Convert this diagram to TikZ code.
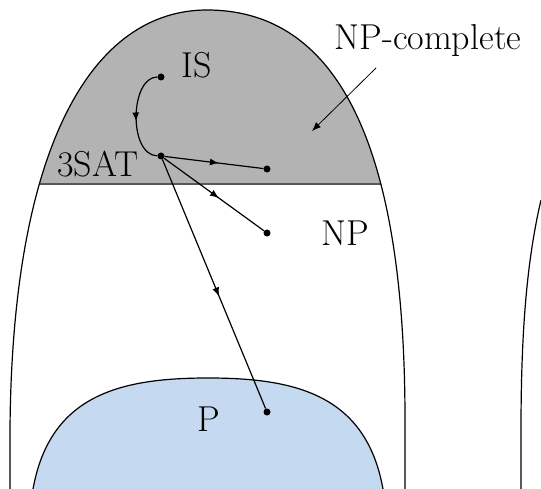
\documentclass[tikz,border=0pt]{standalone}
\usetikzlibrary{decorations.markings,arrows.meta}
\definecolor{npcgray}{RGB}{179,179,179}
\definecolor{pblue}{RGB}{197,217,241}
\tikzset{
  region/.style={draw=black, line width=1.2pt},
  redline/.style={line width=1.2pt, postaction={decorate},
    decoration={markings, mark=at position 0.55 with {\arrow{Latex[length=9pt,width=7pt]}}}},
  dotnode/.style={circle, fill=black, inner sep=0pt, minimum size=7pt},
  lbl/.style={font=\fontsize{36}{42}\selectfont, inner sep=0pt},
}
\begin{document}
\begin{tikzpicture}[x=1pt,y=-1pt]
\useasboundingbox (0,0) rectangle (541,489);
\def\dome{(10,489) -- (10,430) .. controls (12,140) and (95,10) .. (207,10) .. controls (325,10) and (405,120) .. (405,420) -- (405,489)}
% NP-complete region
\begin{scope}
  \clip (0,0) rectangle (541,184);
  \fill[npcgray] \dome -- cycle;
\end{scope}
\begin{scope}
  \clip \dome -- cycle;
  \draw[line width=2.5pt, black!65] (0,184) -- (541,184);
\end{scope}
% P region
\fill[pblue] (33,489) .. controls (50,395) and (120,378) .. (208,378) .. controls (296,378) and (366,395) .. (383,489) -- cycle;
\draw[region] (33,489) .. controls (50,395) and (120,378) .. (208,378) .. controls (296,378) and (366,395) .. (383,489);
% NP outline
\draw[region] \dome;
% partial shape at right
\draw[region] (521,489) -- (521,430) .. controls (521,330) and (527,260) .. (541,200);
% labels
\node[lbl] (islbl) at (197,65) {IS};
\node[lbl] (satlbl) at (98,164) {3SAT};
\node[lbl] (nplbl) at (345,233) {NP};
\node[lbl] (npclbl) at (428,41) {NP-complete};
\node[lbl] (plbl) at (209,419) {P};
% problem points
\node[dotnode] (is) at (161,77) {};
\node[dotnode] (sat) at (161,156) {};
\node[dotnode] (npc1) at (267,169) {};
\node[dotnode] (np1) at (267,233) {};
\node[dotnode] (p1) at (267,412) {};
% reductions
\draw[redline] (is) .. controls (130,77) and (128,155) .. (sat);
\draw[redline] (sat) -- (npc1);
\draw[redline] (sat) -- (np1);
\draw[redline] (sat) -- (p1);
% pointer to NP-complete region
\coordinate (npcfrom) at (376,68);
\coordinate (npcto) at (312,131);
\draw[line width=0.8pt, -{Latex[length=9pt,width=7pt]}] (npcfrom) -- (npcto);
\end{tikzpicture}
\end{document}
